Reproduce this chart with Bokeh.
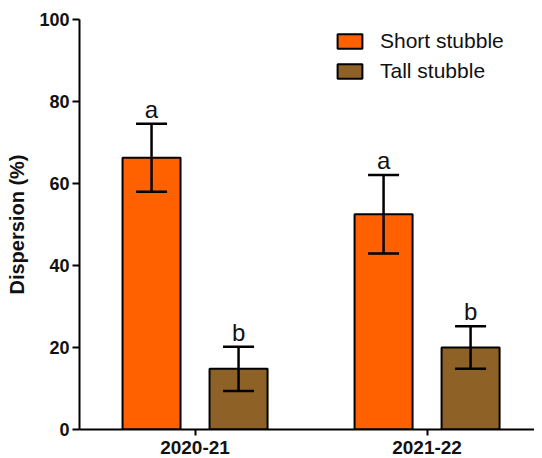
from bokeh.plotting import figure
from bokeh.models import ColumnDataSource, Whisker, Legend, LegendItem, FixedTicker, Range1d, TeeHead
from bokeh.embed import file_html
from bokeh.resources import INLINE

seasons = ["2020-21", "2021-22"]
treatments = ["Short stubble", "Tall stubble"]
short_mean = [66.3, 52.5]
short_err = [8.3, 9.6]
tall_mean = [14.8, 20.0]
tall_err = [5.4, 5.2]
short_letters = ["a", "a"]
tall_letters = ["b", "b"]
colors = ["#FF6000", "#8E6226"]
y_ticks = [0, 20, 40, 60, 80, 100]

FONT = "Liberation Sans"
centers = [0.5, 1.5]
offset = 0.1875
width = 0.25

p = figure(frame_width=455, frame_height=410, min_border_left=79, min_border_top=19,
           min_border_bottom=21, min_border_right=0,
           x_range=Range1d(0.002, 1.963), y_range=Range1d(0, 100),
           output_backend="svg", toolbar_location=None)

renderers = []
for i, (means, errs, letters) in enumerate([(short_mean, short_err, short_letters),
                                            (tall_mean, tall_err, tall_letters)]):
    xs = [c + (-offset if i == 0 else offset) for c in centers]
    src = ColumnDataSource(dict(x=xs, top=means,
                                upper=[m + e for m, e in zip(means, errs)],
                                lower=[m - e for m, e in zip(means, errs)],
                                lab=letters))
    r = p.vbar(x="x", top="top", width=width, bottom=0, source=src,
               fill_color=colors[i], line_color="black", line_width=2)
    renderers.append(r)
    w = Whisker(base="x", upper="upper", lower="lower", source=src,
                line_color="black", line_width=2.5, level="overlay",
                upper_head=TeeHead(size=31, line_width=2.5, line_color="black"),
                lower_head=TeeHead(size=31, line_width=2.5, line_color="black"))
    p.add_layout(w)
    p.text(x="x", y="upper", text="lab", source=src, text_align="center",
           text_baseline="bottom", y_offset=-1, text_font_size="24px",
           text_font={"value": FONT}, text_color="#111111")

legend = Legend(items=[LegendItem(label=treatments[0], renderers=[renderers[0]]),
                       LegendItem(label=treatments[1], renderers=[renderers[1]])],
                location=(255, 346), glyph_width=31, glyph_height=18,
                label_height=20, spacing=6, label_standoff=15, padding=0, margin=0,
                border_line_alpha=0, background_fill_alpha=0,
                label_text_font=FONT, label_text_font_size="21px", label_text_color="#111111")
p.add_layout(legend)

p.xaxis.ticker = FixedTicker(ticks=centers)
p.xaxis.major_label_overrides = {0.5: seasons[0], 1.5: seasons[1]}
p.yaxis.ticker = FixedTicker(ticks=y_ticks)

for ax in [p.xaxis[0], p.yaxis[0]]:
    ax.axis_line_width = 2
    ax.axis_line_color = "black"
    ax.major_tick_line_width = 2
    ax.major_tick_line_color = "black"
    ax.major_tick_out = 7
    ax.major_tick_in = 0
    ax.minor_tick_line_color = None
    ax.major_label_text_font = FONT
    ax.major_label_text_font_style = "bold"
    ax.major_label_text_color = "#111111"

p.xaxis.major_tick_out = 6
p.xaxis.major_label_text_font_size = "19px"
p.xaxis.major_label_standoff = 5
p.yaxis.major_label_text_font_size = "18px"
p.yaxis.major_label_standoff = 3
p.yaxis.axis_label = "Dispersion (%)"
p.yaxis.axis_label_text_font = FONT
p.yaxis.axis_label_text_font_size = "20px"
p.yaxis.axis_label_text_font_style = "bold"
p.yaxis.axis_label_text_color = "#111111"
p.yaxis.axis_label_standoff = 8

p.xgrid.visible = False
p.ygrid.visible = False
p.outline_line_color = None
p.background_fill_color = "white"

open("out.html", "w").write(file_html(p, INLINE))
